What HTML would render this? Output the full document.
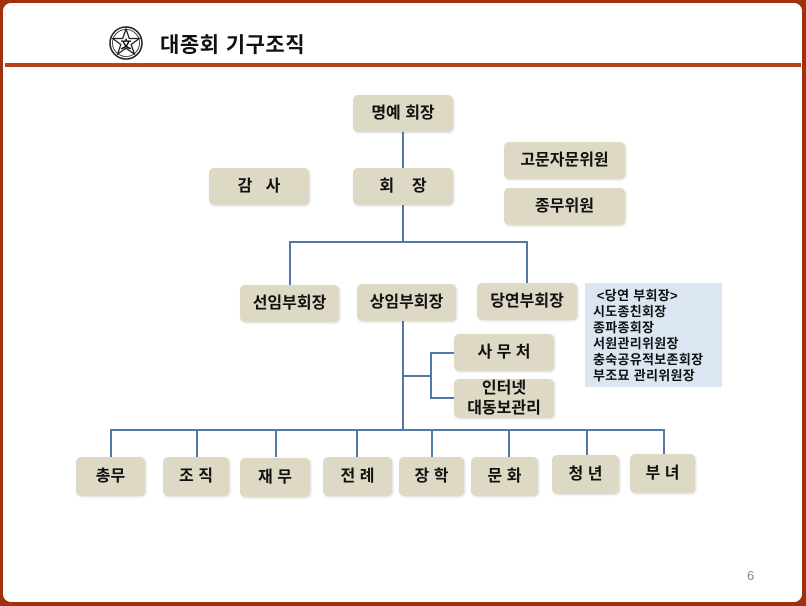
<!DOCTYPE html>
<html><head><meta charset="utf-8"><style>
body{margin:0;width:806px;height:606px;background:#a0300e;overflow:hidden;font-family:"Liberation Sans","Noto Sans CJK KR","NanumGothic",sans-serif}
#pg{position:absolute;left:3px;top:3px;width:799px;height:599px;background:#fff;border-radius:8px}
.b{position:absolute;background:#ddd9c4;border-radius:5px;display:flex;align-items:center;justify-content:center;text-align:center;font-size:16px;font-weight:bold;color:#111;box-shadow:1px 1px 2px rgba(0,0,0,.15);line-height:20px}
.l{position:absolute;background:#4f7aa8}
</style></head><body>
<div id="pg"></div>
<div style="position:absolute;left:5px;top:63px;width:796px;height:4px;background:#b5461c"></div>
<svg style="position:absolute;left:108px;top:25px" width="36" height="36" viewBox="0 0 36 36">
<circle cx="18" cy="18" r="16" fill="none" stroke="#222" stroke-width="1.6"/>
<circle cx="18" cy="18" r="13.5" fill="none" stroke="#222" stroke-width="0.8"/>
<polygon points="18,4 21.3,13.5 31.3,13.5 23.2,19.5 26.3,29 18,23.2 9.7,29 12.8,19.5 4.7,13.5 14.7,13.5" fill="#fff" stroke="#222" stroke-width="1.3"/>
<text x="18" y="23" font-size="11" font-weight="bold" text-anchor="middle" font-family="Noto Sans CJK SC,sans-serif">文</text>
</svg>
<div style="position:absolute;left:160px;top:29px;font-size:21px;font-weight:bold;color:#111;letter-spacing:0.5px">대종회 기구조직</div>

<div class="l" style="left:402px;top:132px;width:2px;height:110px"></div>
<div class="l" style="left:289px;top:241px;width:238px;height:2px"></div>
<div class="l" style="left:289px;top:241px;width:2px;height:44px"></div>
<div class="l" style="left:526px;top:241px;width:2px;height:42px"></div>
<div class="l" style="left:402px;top:320px;width:2px;height:111px"></div>
<div class="l" style="left:402px;top:375px;width:29px;height:2px"></div>
<div class="l" style="left:430px;top:352px;width:2px;height:46px"></div>
<div class="l" style="left:430px;top:352px;width:24px;height:2px"></div>
<div class="l" style="left:430px;top:397px;width:24px;height:2px"></div>
<div class="l" style="left:110px;top:429px;width:554px;height:2px"></div>
<div class="l" style="left:110px;top:429px;width:2px;height:28px"></div>
<div class="l" style="left:196px;top:429px;width:2px;height:28px"></div>
<div class="l" style="left:275px;top:429px;width:2px;height:28px"></div>
<div class="l" style="left:356px;top:429px;width:2px;height:28px"></div>
<div class="l" style="left:431px;top:429px;width:2px;height:28px"></div>
<div class="l" style="left:508px;top:429px;width:2px;height:28px"></div>
<div class="l" style="left:586px;top:429px;width:2px;height:28px"></div>
<div class="l" style="left:663px;top:429px;width:2px;height:26px"></div>

<div class="b" style="left:353px;top:95px;width:100px;height:37px">명예 회장</div>
<div class="b" style="left:209px;top:168px;width:100px;height:37px">감&nbsp;&nbsp;&nbsp;사</div>
<div class="b" style="left:353px;top:168px;width:100px;height:37px">회&nbsp;&nbsp;&nbsp;&nbsp;장</div>
<div class="b" style="left:504px;top:142px;width:121px;height:37px">고문자문위원</div>
<div class="b" style="left:504px;top:188px;width:121px;height:37px">종무위원</div>
<div class="b" style="left:240px;top:285px;width:99px;height:37px">선임부회장</div>
<div class="b" style="left:357px;top:284px;width:99px;height:37px">상임부회장</div>
<div class="b" style="left:477px;top:283px;width:100px;height:37px">당연부회장</div>
<div style="position:absolute;left:585px;top:283px;width:137px;height:104px;background:#dce6f2;font-size:13px;font-weight:bold;line-height:16px;padding:5px 0 0 8px;box-sizing:border-box;color:#111;letter-spacing:0.3px;white-space:nowrap">&nbsp;&lt;당연 부회장&gt;<br>시도종친회장<br>종파종회장<br>서원관리위원장<br>충숙공유적보존회장<br>부조묘 관리위원장</div>
<div class="b" style="left:454px;top:334px;width:100px;height:37px">사 무 처</div>
<div class="b" style="left:454px;top:379px;width:100px;height:39px">인터넷<br>대동보관리</div>

<div class="b" style="left:76px;top:457px;width:69px;height:39px">총무</div>
<div class="b" style="left:163px;top:457px;width:66px;height:39px">조 직</div>
<div class="b" style="left:240px;top:458px;width:70px;height:39px">재 무</div>
<div class="b" style="left:323px;top:457px;width:69px;height:39px">전 례</div>
<div class="b" style="left:399px;top:457px;width:65px;height:39px">장 학</div>
<div class="b" style="left:471px;top:457px;width:67px;height:39px">문 화</div>
<div class="b" style="left:552px;top:455px;width:67px;height:39px">청 년</div>
<div class="b" style="left:630px;top:454px;width:65px;height:39px">부 녀</div>
<div style="position:absolute;left:747px;top:568px;font-size:13px;color:#888">6</div>
</body></html>
